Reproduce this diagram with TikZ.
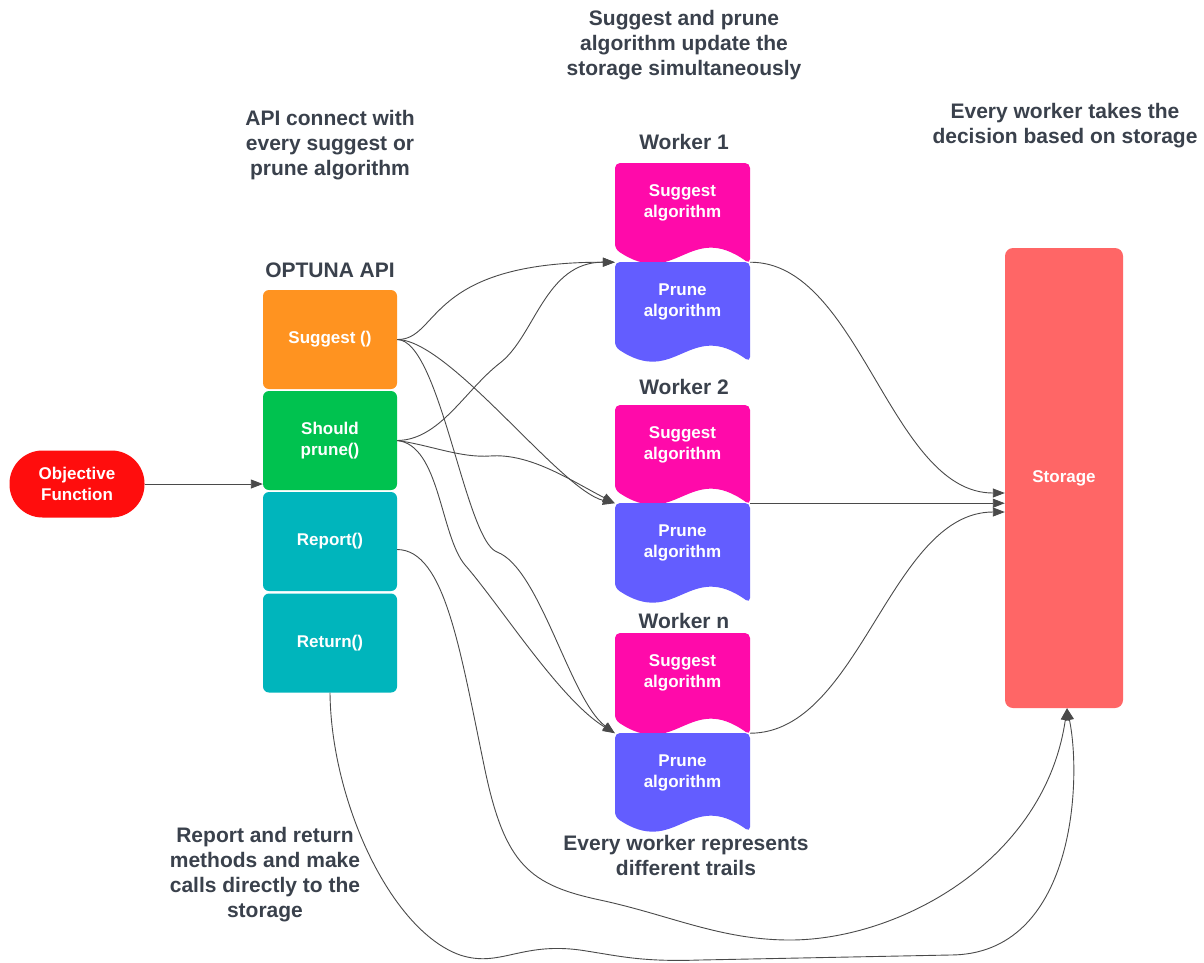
\documentclass[tikz,border=0pt]{standalone}
\usepackage{fontspec}
\setmainfont{Liberation Sans}
\usetikzlibrary{arrows.meta}
\definecolor{txt}{HTML}{3A414C}
\definecolor{objred}{HTML}{FF0D0D}
\definecolor{sugor}{HTML}{FF9320}
\definecolor{prgreen}{HTML}{00C24F}
\definecolor{teal}{HTML}{00B5BC}
\definecolor{wpink}{HTML}{FF0AAA}
\definecolor{wpurple}{HTML}{635DFF}
\definecolor{stred}{HTML}{FF6666}
\definecolor{conncol}{HTML}{4A4A4A}
% worker shape: colour, left x, top y, bottom y (at right side)
\newcommand{\wshape}[4]{%
  \fill[#1, rounded corners=5] ({#2+135},#4) .. controls ({#2+74},{#4-44}) and ({#2+61},{#4+26}) .. (#2,{#4-15}) -- (#2,#3) -- ({#2+135},#3) -- cycle;}
\begin{document}
\begin{tikzpicture}[x=1pt,y=-1pt,
  hdr/.style={text=txt, font=\fontsize{21}{25}\selectfont\bfseries, align=center, inner sep=0pt},
  wtxt/.style={text=white, font=\fontsize{17}{21}\selectfont\bfseries, align=center, inner sep=0pt},
  apibox/.style={wtxt, rounded corners=6, minimum width=134pt, minimum height=99pt},
  wrect/.style={inner sep=0pt, minimum width=135pt},
  conn/.style={draw=conncol, line width=0.9pt, -{Triangle[length=12pt,width=9pt]}},
  plain/.style={draw=conncol, line width=0.9pt}]
\useasboundingbox (0,0) rectangle (1204,962);
\fill[white] (0,0) rectangle (1204,962);

% headings / annotations
\node[hdr] (t1) at (684,45) {Suggest and prune\\algorithm update the\\storage simultaneously};
\node[hdr] (t2) at (330,145) {API connect with\\every suggest or\\prune algorithm};
\node[hdr] (t3) at (1065,126) {Every worker takes the\\decision based on storage};
\node[hdr] (t4) at (265,875) {Report and return\\methods and make\\calls directly to the\\storage};
\node[hdr] (t5) at (686,855) {Every worker represents\\different trails};
\node[hdr] (api) at (330,270) {OPTUNA API};
\node[hdr] (w1l) at (684,142) {Worker 1};
\node[hdr] (w2l) at (684,387) {Worker 2};
\node[hdr] (wnl) at (684,621) {Worker n};

% objective function
\node[wtxt, fill=objred, rounded corners=33pt, minimum width=135pt, minimum height=67pt] (obj) at (77,484) {Objective\\Function};

% API boxes
\node[apibox, fill=sugor] (sug) at (330,339.5) {Suggest ()};
\node[apibox, fill=prgreen] (shp) at (330,440.5) {Should\\prune()};
\node[apibox, fill=teal] (rep) at (330,541.5) {Report()};
\node[apibox, fill=teal] (ret) at (330,643) {Return()};

% workers (shapes)
\wshape{wpink}{615}{163}{264}
\wshape{wpurple}{615}{262}{362}
\wshape{wpink}{615}{405}{505}
\wshape{wpurple}{615}{503}{603}
\wshape{wpink}{615}{633}{735}
\wshape{wpurple}{615}{733}{832}

% worker named areas
\node[wrect, minimum height=99pt] (s1) at (682.5,212.5) {};
\node[wrect, minimum height=100pt] (p1) at (682.5,312) {};
\node[wrect, minimum height=98pt] (s2) at (682.5,454) {};
\node[wrect, minimum height=100pt] (p2) at (682.5,553) {};
\node[wrect, minimum height=100pt] (sn) at (682.5,683) {};
\node[wrect, minimum height=99pt] (pn) at (682.5,782.5) {};

\node[wtxt] (s1t) at ([yshift=9.5pt]s1.center) {Suggest\\algorithm};
\node[wtxt] (p1t) at ([yshift=10pt]p1.center) {Prune\\algorithm};
\node[wtxt] (s2t) at ([yshift=9pt]s2.center) {Suggest\\algorithm};
\node[wtxt] (p2t) at ([yshift=10pt]p2.center) {Prune\\algorithm};
\node[wtxt] (snt) at ([yshift=10pt]sn.center) {Suggest\\algorithm};
\node[wtxt] (pnt) at ([yshift=10pt]pn.center) {Prune\\algorithm};

% storage
\node[wtxt, fill=stred, rounded corners=8, minimum width=118pt, minimum height=460pt] (st) at (1064,478) {Storage};

% connectors
\draw[conn] (obj.east) -- (obj.east -| shp.west);

\draw[conn] (sug.east) .. controls (440,340) and (425,262) .. (s1.south west);
\draw[conn] (sug.east) .. controls (450,340) and (560,490) .. (s2.south west);
\draw[conn] (sug.east) .. controls (440,340) and (465,540) .. (497,552) .. controls (540,568) and (570,700) .. (sn.south west);

\draw[conn] (shp.east) .. controls (440,440) and (465,390) .. (500,363) .. controls (535,336) and (545,262) .. (s1.south west);
\draw[conn] (shp.east) .. controls (430,445) and (460,458) .. (490,456) .. controls (530,453) and (570,480) .. (s2.south west);
\draw[conn] (shp.east) .. controls (440,445) and (440,535) .. (465,565) .. controls (500,605) and (560,700) .. (sn.south west);

\draw[conn] ([yshift=-8pt]rep.east) .. controls (445,550) and (460,650) .. (485,770)
  .. controls (505,865) and (530,885) .. (600,900)
  .. controls (670,915) and (720,940) .. (790,940)
  .. controls (900,940) and (1045,860) .. ([xshift=3pt]st.south);

\draw[conn] (ret.south) .. controls (331,800) and (390,930) .. (460,955)
  .. controls (500,968) and (520,942) .. (580,950)
  .. controls (620,956) and (640,962) .. (700,960)
  -- (950,955)
  .. controls (1075,955) and (1082,780) .. ([xshift=3pt]st.south);

\draw[conn] (s1.south east) .. controls (860,262) and (890,493) .. ([yshift=-15pt]st.west);
\draw[conn] (s2.south east) -- (s2.south east -| st.west);
\draw[conn] (sn.south east) .. controls (860,733) and (890,512) .. ([yshift=-34pt]st.west);
\end{tikzpicture}
\end{document}
